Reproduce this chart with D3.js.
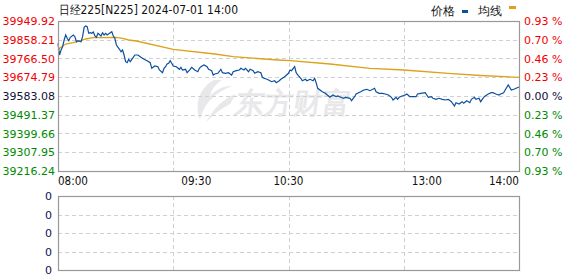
<!DOCTYPE html>
<meta charset="utf-8" />
<style>
  body { margin: 0; background: #fff; }
  svg text { font-family: "DejaVu Sans", sans-serif; }
</style>
<body>
<div id="chart"></div>
<script src="https://cdn.jsdelivr.net/npm/d3@7"></script>
<script>
  // minutes since 08:00 (lunch break removed) and price
  const minutes = [0,1,2,3,4,5,6,7,8,10,11,12,13,15,16,17,18,19,20,21,22,23,24,25,26,28,29,30,31,32,34,35,36,37,38,40,41,42,43,44,45,46,47,49,50,52,54,56,58,60,61,63,65,66,68,69,70,71,72,73,74,75,77,79,80,81,83,84,86,87,89,91,92,93,95,97,98,100,101,102,104,106,107,109,111,112,113,114,116,118,119,121,122,124,125,127,128,130,132,133,134,136,137,139,141,142,144,145,147,148,150,151,152,154,155,156,158,159,161,162,164,166,167,168,169,172,174,176,177,179,181,182,184,186,187,190,191,193,194,197,199,201,203,206,207,209,211,213,215,217,218,220,221,222,224,226,227,229,231,233,234,236,239,240,241,243,244,246,248,250,252,254,256,258,259,261,263,264,266,268,269,271,272,274,275,277,278,280,282,283,285,287,288,290,291,293,295,297,300];
  const prices = [39840.85,39783.62,39808.08,39824.22,39856.99,39881.44,39865.30,39853.56,39870.19,39881.44,39873.13,39848.67,39853.56,39848.67,39873.13,39919.11,39925.46,39922.04,39889.76,39892.69,39889.76,39896.12,39876.55,39870.19,39889.76,39876.55,39892.69,39881.44,39889.76,39881.44,39892.69,39897.58,39876.55,39865.30,39832.53,39811.50,39799.76,39808.08,39783.62,39750.85,39745.96,39762.59,39750.85,39772.37,39783.62,39783.62,39772.37,39762.59,39755.74,39745.96,39718.57,39729.82,39726.39,39710.25,39697.04,39718.57,39726.39,39739.60,39743.02,39755.74,39743.02,39729.82,39726.39,39713.68,39723.46,39710.25,39713.68,39697.04,39713.68,39723.46,39710.25,39701.94,39718.57,39726.39,39734.71,39726.39,39713.68,39706.83,39685.80,39690.69,39694.11,39713.68,39697.04,39694.11,39697.04,39690.69,39685.80,39701.94,39706.83,39710.25,39718.57,39710.25,39718.57,39701.94,39713.68,39706.83,39694.11,39701.94,39697.04,39674.55,39669.65,39664.76,39661.34,39653.02,39657.92,39648.13,39657.92,39664.76,39674.55,39680.90,39694.11,39710.25,39706.83,39726.39,39697.04,39685.80,39669.65,39657.92,39664.76,39657.92,39664.76,39657.92,39669.65,39648.13,39620.74,39604.11,39596.29,39583.08,39576.72,39587.97,39579.66,39583.08,39576.72,39571.83,39576.72,39571.83,39560.09,39579.66,39592.86,39604.11,39612.43,39615.85,39609.00,39620.74,39604.11,39596.29,39596.29,39592.86,39587.97,39576.72,39563.52,39576.72,39566.94,39576.72,39583.08,39587.97,39592.86,39579.66,39579.66,39579.66,39592.86,39596.29,39599.22,39587.97,39576.72,39579.66,39571.83,39566.94,39571.83,39566.94,39563.52,39566.94,39555.20,39534.17,39550.31,39543.95,39555.20,39547.37,39560.09,39550.31,39566.94,39576.72,39566.94,39571.83,39555.20,39576.72,39583.08,39592.86,39599.22,39599.22,39592.86,39587.97,39592.86,39599.22,39612.43,39636.88,39612.43,39617.32,39627.10];

  const avgMinutes = [0,3,5,10,15,18,23,38,42,46,51,75,102,114,143,151,177,203,225,254,275,300];
  const avgPrices = [39810.52,39827.64,39837.42,39843.78,39853.56,39861.88,39868.24,39870.19,39865.30,39856.99,39852.10,39811.50,39788.51,39775.30,39759.16,39755.74,39739.60,39718.57,39710.25,39694.11,39683.35,39674.55];

  const priceTicks = [39949.92,39858.21,39766.50,39674.79,39583.08,39491.37,39399.66,39307.95,39216.24];
  const pctLabels = ["0.93 %","0.70 %","0.46 %","0.23 %","0.00 %","0.23 %","0.46 %","0.70 %","0.93 %"];
  const timeTicks = [0, 90, 150, 240, 300];
  const timeLabels = ["08:00", "09:30", "10:30", "13:00", "14:00"];
  const gridMinutes = [75, 150, 225];
  const volTicks = [0, 0.25, 0.5, 0.75, 1];
  const volLabels = ["0", "0", "0", "0", "0"];
  const prevClose = 39583.08;

  const width = 578, height = 276;
  const pLeft = 58, pRight = 519, pTop = 21, pBottom = 171;
  const vTop = 196, vBottom = 270;

  const svg = d3.select("#chart").append("svg").attr("width", width).attr("height", height);

  const x = d3.scaleLinear().domain([0, 300]).range([pLeft, pRight]);
  const y = d3.scaleLinear().domain([39216.24, 39949.92]).range([pBottom, pTop]);
  const yv = d3.scaleLinear().domain([0, 1]).range([vBottom, vTop]);

  const red = "#f20000", green = "#008a00", dark = "#111133";
  const tickColor = (v) => (Math.abs(v - prevClose) < 0.01 ? dark : v > prevClose ? red : green);

  // watermark
  const wm = svg.append("g").attr("fill", "#e8e8ea");
  wm.append("path")
    .attr("d", "M214,80 C200,88 194,102 200,120 C203,106 212,94 232,86 C222,86 216,90 210,96 C212,88 216,84 222,80 Z M206,122 C214,108 224,98 236,94 L230,104 C222,108 214,114 206,122 Z");
  wm.append("text").attr("x", 236).attr("y", 113)
    .attr("font-family", "Noto Sans CJK SC").attr("font-weight", "bold").attr("font-size", 29)
    .attr("transform", "skewX(-8) translate(14,0)")
    .text("东方财富");

  // main grid
  const grid = svg.append("g").attr("stroke", "#d0d0d0").attr("stroke-dasharray", "4,3").attr("shape-rendering", "crispEdges");
  grid.selectAll(".h").data(priceTicks.slice(1, -1)).join("line")
    .attr("x1", pLeft).attr("x2", pRight)
    .attr("y1", (d) => Math.round(y(d)) + 0.5).attr("y2", (d) => Math.round(y(d)) + 0.5);
  grid.selectAll(".v").data(gridMinutes).join("line")
    .attr("y1", pTop).attr("y2", pBottom)
    .attr("x1", (d) => Math.round(x(d)) + 0.5).attr("x2", (d) => Math.round(x(d)) + 0.5);

  // volume grid
  const vgrid = svg.append("g").attr("stroke", "#d0d0d0").attr("stroke-dasharray", "4,3").attr("shape-rendering", "crispEdges");
  vgrid.selectAll(".h").data(volTicks.slice(1, -1)).join("line")
    .attr("x1", pLeft).attr("x2", pRight)
    .attr("y1", (d) => Math.round(yv(d)) + 0.5).attr("y2", (d) => Math.round(yv(d)) + 0.5);
  vgrid.selectAll(".v").data(gridMinutes).join("line")
    .attr("y1", vTop).attr("y2", vBottom)
    .attr("x1", (d) => Math.round(x(d)) + 0.5).attr("x2", (d) => Math.round(x(d)) + 0.5);

  // lines
  const priceLine = d3.line().x((d, i) => x(minutes[i])).y((d) => y(d));
  svg.append("path").datum(avgPrices)
    .attr("fill", "none").attr("stroke", "#dca21a").attr("stroke-width", 1.3)
    .attr("d", d3.line().x((d, i) => x(avgMinutes[i])).y((d) => y(d)));
  svg.append("path").datum(prices)
    .attr("fill", "none").attr("stroke", "#0b4fa0").attr("stroke-width", 1.2)
    .attr("d", priceLine);

  // frames
  svg.append("rect").attr("x", pLeft + 0.5).attr("y", pTop + 0.5).attr("width", pRight - pLeft).attr("height", pBottom - pTop)
    .attr("fill", "none").attr("stroke", "#999").attr("stroke-width", 1.2);
  svg.append("rect").attr("x", pLeft + 0.5).attr("y", vTop + 0.5).attr("width", pRight - pLeft).attr("height", vBottom - vTop)
    .attr("fill", "none").attr("stroke", "#999").attr("stroke-width", 1.2);

  // left price axis
  const yAxis = svg.append("g").attr("transform", `translate(${pLeft},0)`)
    .call(d3.axisLeft(y).tickValues(priceTicks).tickFormat(d3.format(".2f")).tickSize(0).tickPadding(3));
  yAxis.select(".domain").remove();
  yAxis.selectAll("text").attr("font-size", 11).attr("font-family", "DejaVu Sans").attr("fill", (d) => tickColor(d));

  // right percent axis
  const rAxis = svg.append("g").attr("transform", `translate(${pRight},0)`)
    .call(d3.axisRight(y).tickValues(priceTicks).tickFormat((d, i) => pctLabels[i]).tickSize(0).tickPadding(5));
  rAxis.select(".domain").remove();
  rAxis.selectAll("text").attr("font-size", 11).attr("font-family", "DejaVu Sans").attr("fill", (d) => tickColor(d));

  // time axis
  svg.append("g").selectAll("text").data(timeTicks).join("text")
    .attr("x", (d) => x(d)).attr("y", 185)
    .attr("text-anchor", (d, i) => (i === 0 ? "start" : i === timeTicks.length - 1 ? "end" : "middle"))
    .attr("font-family", "Liberation Mono").attr("font-size", 12)
    .attr("textLength", 30).attr("lengthAdjust", "spacingAndGlyphs")
    .attr("fill", "#111")
    .text((d, i) => timeLabels[i]);

  // volume axis
  const vAxis = svg.append("g").attr("transform", `translate(${pLeft - 3},0)`)
    .call(d3.axisLeft(yv).tickValues(volTicks).tickFormat((d, i) => volLabels[i]).tickSize(0).tickPadding(3));
  vAxis.select(".domain").remove();
  vAxis.selectAll("text").attr("font-size", 11).attr("font-family", "DejaVu Sans").attr("fill", "#10105a");

  // title
  svg.append("text").attr("x", 59).attr("y", 14)
    .attr("font-family", "Liberation Mono, Noto Sans CJK SC").attr("font-size", 12)
    .attr("textLength", 179).attr("lengthAdjust", "spacingAndGlyphs")
    .attr("fill", "#111")
    .text("日经225[N225] 2024-07-01 14:00");

  // legend
  const lg = svg.append("g").attr("font-family", "Noto Sans CJK SC").attr("font-size", 12).attr("fill", "#111");
  lg.append("text").attr("x", 431).attr("y", 15).text("价格");
  lg.append("rect").attr("x", 462).attr("y", 10).attr("width", 6).attr("height", 3).attr("fill", "#0b4fa0");
  lg.append("text").attr("x", 478).attr("y", 15).text("均线");
  lg.append("rect").attr("x", 509).attr("y", 6).attr("width", 7).attr("height", 3).attr("fill", "#dca21a");
</script>
</body>
